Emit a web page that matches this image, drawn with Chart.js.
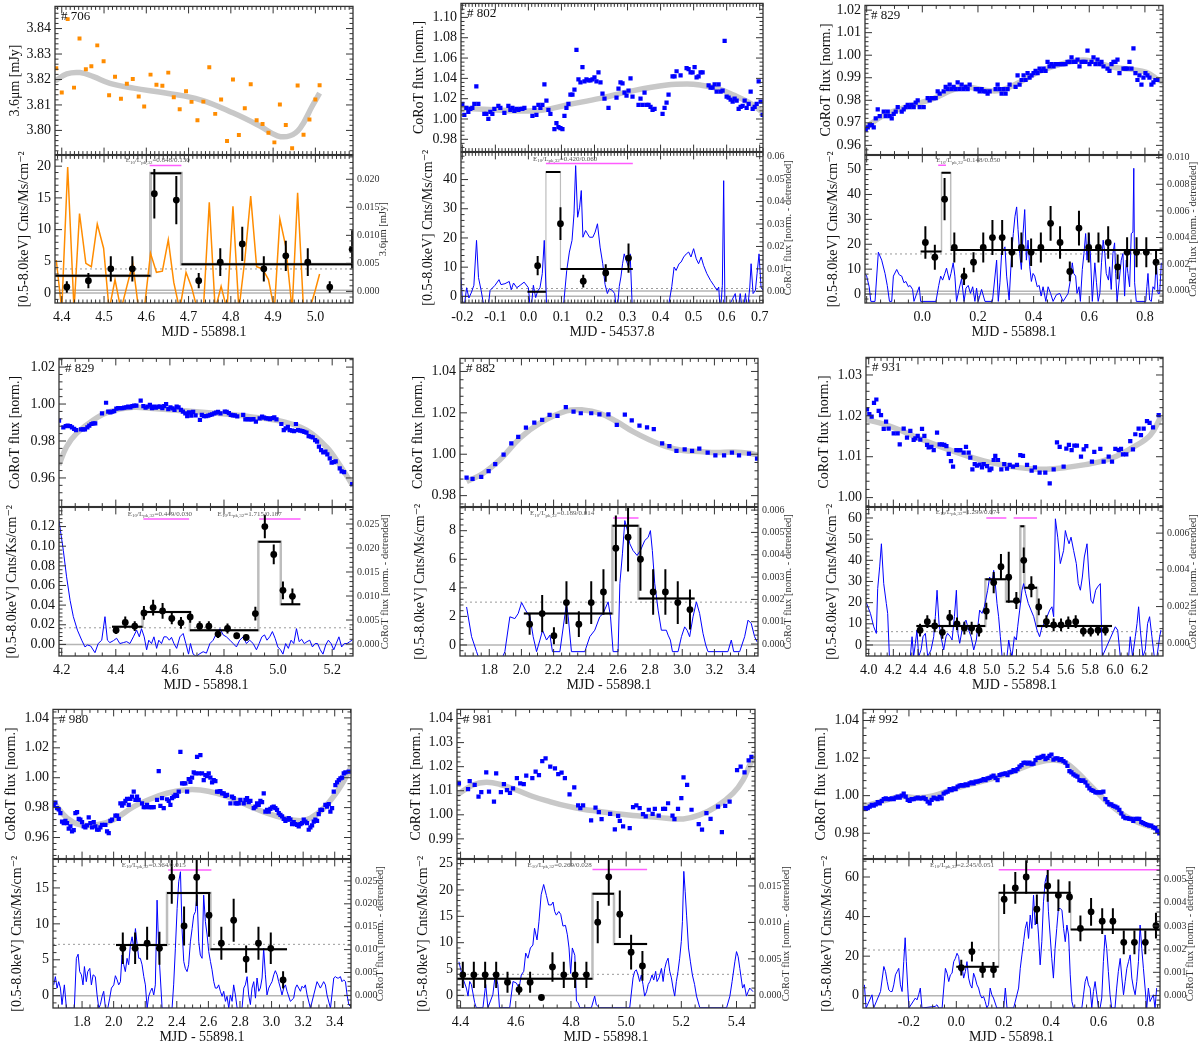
<!DOCTYPE html>
<html>
<head>
<meta charset="utf-8">
<script src="https://cdn.jsdelivr.net/npm/chart.js@4.4.1/dist/chart.umd.min.js"></script>
<style>
  html, body { margin: 0; padding: 0; background: #fff; }
  #wrap { position: relative; width: 1200px; height: 1050px; overflow: hidden; background: #fff; }
  #wrap canvas { position: absolute; }
</style>
</head>
<body>
<div id="wrap"></div>
<script>
// ---------- data: #706 (Spitzer 3.6um) ----------
const lc706 = [[4.387,3.8244],[4.400,3.8149],[4.414,3.8437],[4.429,3.8168],[4.442,3.8361],[4.457,3.8240],[4.470,3.8252],[4.484,3.8334],[4.499,3.8272],[4.512,3.8138],[4.526,3.8211],[4.540,3.8124],[4.554,3.8183],[4.568,3.8202],[4.582,3.8133],[4.595,3.8094],[4.610,3.8219],[4.624,3.8179],[4.638,3.8175],[4.652,3.8227],[4.665,3.8130],[4.679,3.8083],[4.694,3.8154],[4.707,3.8112],[4.721,3.8040],[4.735,3.8113],[4.749,3.8248],[4.763,3.8065],[4.777,3.8121],[4.791,3.7958],[4.805,3.8200],[4.819,3.7982],[4.833,3.8087],[4.847,3.8181],[4.861,3.8040],[4.875,3.8025],[4.889,3.7991],[4.903,3.7953],[4.916,3.8102],[4.930,3.8021],[4.945,3.7930],[4.958,3.8176],[4.972,3.7983],[4.986,3.8043],[5.000,3.8121],[5.010,3.8177]];
const fit706 = [[4.384,3.8194],[4.412,3.8222],[4.443,3.8227],[4.475,3.8211],[4.514,3.8185],[4.570,3.8166],[4.649,3.8146],[4.728,3.8120],[4.806,3.8068],[4.870,3.8016],[4.910,3.7979],[4.940,3.7979],[4.964,3.8009],[4.992,3.8094],[5.010,3.8146]];
const xray706 = [[4.412,0.95,0.9],[4.463,1.94,1.2],[4.516,3.82,2.0],[4.567,3.82,2.0],[4.619,15.65,3.9],[4.671,14.66,3.8],[4.724,1.94,1.2],[4.775,4.87,2.2],[4.827,7.75,2.7],[4.878,3.82,2.0],[4.930,5.86,2.4],[4.982,4.87,2.2],[5.034,0.94,0.9],[5.087,6.9,3.0]];
const bins706 = [[4.384,4.610,2.72],[4.610,4.683,18.9],[4.683,5.089,4.55]];
const res706 = [[4.387,0.0056],[4.400,-0.0033],[4.414,0.0222],[4.429,-0.0033],[4.442,0.0139],[4.457,0.0050],[4.470,0.0044],[4.484,0.0120],[4.499,0.0077],[4.512,-0.0033],[4.526,0.0021],[4.540,-0.0033],[4.554,0.0009],[4.568,0.0050],[4.582,-0.0033],[4.595,-0.0033],[4.610,0.0068],[4.624,0.0034],[4.638,0.0036],[4.652,0.0092],[4.665,0.0016],[4.679,-0.0033],[4.694,0.0034],[4.707,0.0008],[4.721,-0.0033],[4.735,-0.0033],[4.749,0.0159],[4.763,-0.0033],[4.777,0.0009],[4.791,-0.0033],[4.805,0.0152],[4.819,-0.0033],[4.833,0.0056],[4.847,0.0170],[4.861,0.0044],[4.875,0.0040],[4.889,0.0021],[4.903,-0.0033],[4.916,0.0129],[4.930,0.0080],[4.945,-0.0033],[4.958,0.0176],[4.972,-0.0033],[4.986,-0.0033],[5.000,0.0003],[5.010,0.0031]];
const zero706 = [0, 0.45], dot706 = 3.8;
const mag706 = [[4.608,4.683,20.1]];
const note706 = [[4.627,20.9,'0.848/0.130']];

// ---------- data: #802 ----------
const t802 = [-0.200, 0.00606];   // first time stamp, cadence
const lc802 = [1.015,1.004,1.011,1.007,1.010,1.011,1.015,1.032,1.015,null,null,1.005,1.005,1.000,1.007,1.005,1.010,null,1.013,1.011,null,1.006,null,1.013,1.009,1.011,1.008,1.010,1.009,1.010,1.010,1.011,null,null,null,1.003,1.011,1.004,1.014,1.011,1.014,1.034,1.018,1.009,1.005,null,0.990,0.996,0.992,0.991,0.990,1.003,1.011,1.015,1.024,1.024,1.029,1.068,1.039,1.036,1.051,1.037,1.039,1.038,1.038,1.039,1.041,1.037,1.046,1.036,1.025,1.020,null,1.011,null,null,null,1.021,1.030,1.036,1.035,1.026,1.023,1.028,1.040,1.022,null,null,1.014,1.020,1.014,1.026,1.014,1.014,1.012,1.009,1.010,null,null,null,1.005,1.011,1.016,1.024,null,1.042,1.042,1.047,null,1.043,null,null,1.050,1.049,1.046,1.046,1.051,1.041,1.042,1.046,1.046,null,null,1.033,1.031,1.031,1.034,1.027,1.034,1.027,1.028,1.077,1.022,1.021,1.019,1.017,1.020,1.018,1.010,1.012,1.013,1.018,1.011,1.015,1.027,1.010,1.012,1.015,1.037,1.017,1.004];
const fit802 = [[-0.204,1.0105],[-0.136,1.0095],[-0.035,1.0079],[0.045,1.0089],[0.116,1.0138],[0.217,1.0203],[0.318,1.0279],[0.419,1.0334],[0.480,1.0344],[0.520,1.0334],[0.571,1.0302],[0.621,1.0236],[0.672,1.0154],[0.710,1.0062]];
const xray802 = [[0.028,10.5,3.3],[0.097,24.9,5.6],[0.166,5.2,2.2],[0.234,8.0,3.0],[0.303,13.1,5.0]];
const bins802 = [[-0.003,0.053,1.6],[0.053,0.097,42.6],[0.097,0.316,9.4]];
const res802 = [[-0.204,0.0061],[-0.197,-0.01],[-0.187,0.0016],[-0.180,-0.003],[-0.172,-0.0003],[-0.165,0.0027],[-0.157,0.0227],[-0.151,0.0061],[-0.143,0.0004],[-0.131,-0.01],[-0.124,-0.01],[-0.116,0.0004],[-0.101,0.0027],[-0.089,0.0052],[-0.083,0.003],[-0.071,0.0034],[-0.058,0.0044],[-0.052,0.0007],[-0.045,0.0037],[-0.035,0.0016],[-0.025,0.0027],[-0.013,0.0041],[0.000,0.0016],[0.007,-0.01],[0.015,0.0027],[0.022,-0.0028],[0.028,0.0001],[0.035,0.0016],[0.042,0.0079],[0.048,0.0227],[0.056,-0.01],[0.104,-0.01],[0.116,0.0093],[0.124,0.0175],[0.132,0.0227],[0.138,0.0345],[0.143,0.056],[0.149,0.033],[0.155,0.0375],[0.160,0.0449],[0.165,0.0241],[0.173,0.0271],[0.179,0.0256],[0.185,0.0241],[0.195,0.0241],[0.202,0.0264],[0.209,0.0301],[0.217,0.0197],[0.225,0.0123],[0.232,0.0031],[0.239,-0.001],[0.245,0.0012],[0.254,0.0004],[0.261,-0.001],[0.268,-0.01],[0.275,0.0022],[0.280,0.0064],[0.285,0.0123],[0.290,0.0167],[0.296,0.0138],[0.303,0.0108],[0.308,0.0167],[0.315,-0.01],[0.420,-0.01],[0.434,0.0022],[0.441,0.0108],[0.447,0.0093],[0.456,0.0123],[0.462,0.013],[0.470,0.0153],[0.478,0.0167],[0.485,0.0175],[0.492,0.0153],[0.500,0.019],[0.508,0.0145],[0.515,0.0123],[0.523,0.0153],[0.530,0.0116],[0.540,0.0079],[0.551,0.0049],[0.561,0.0027],[0.571,0.0004],[0.576,0.0019],[0.581,-0.01],[0.587,0.0027],[0.591,0.0493],[0.595,-0.01],[0.626,-0.001],[0.633,-0.01],[0.641,-0.001],[0.649,-0.01],[0.657,-0.001],[0.662,-0.01],[0.670,0.0019],[0.674,0.0123],[0.680,-0.001],[0.687,0.0004],[0.692,0.0079],[0.698,0.0167],[0.704,0.0019],[0.710,0.0004]];
const zero802 = [0, 1.8], dot802 = 2.7;
const mag802 = [[0.053,0.316,45.5]];
const note802 = [[0.111,47.0,'0.420/0.060']];

// ---------- data: #829 (first epoch) ----------
const t829a = [-0.2033, 0.00718];
const lc829a = [0.967,0.968,0.969,0.969,0.968,0.972,0.976,0.973,null,0.975,0.973,0.975,0.973,0.972,0.974,0.975,0.977,null,0.975,0.976,0.977,0.978,0.977,0.978,0.977,0.979,0.980,0.977,null,0.977,null,0.981,0.980,0.981,0.981,0.981,0.984,0.983,null,0.984,0.986,0.985,0.987,0.985,0.986,0.985,0.988,0.985,0.987,0.985,0.986,0.985,0.987,null,null,0.985,0.985,0.984,0.985,0.984,0.984,0.983,0.984,null,null,0.985,0.987,0.985,0.983,0.985,0.983,0.985,0.987,null,null,0.986,0.991,0.987,0.989,0.991,0.989,0.992,0.990,0.991,0.992,0.993,0.992,0.994,0.993,0.994,0.993,0.997,0.995,0.996,0.995,0.996,0.996,0.996,0.996,0.996,0.996,0.997,0.997,0.999,0.997,0.997,0.998,0.995,0.997,0.997,0.997,1.002,0.996,0.997,0.999,0.996,0.998,0.996,0.997,0.995,null,0.994,0.993,0.996,0.997,0.997,0.998,0.992,null,0.994,0.994,0.994,0.997,0.994,1.003,0.992,0.989,0.991,0.987,0.990,0.992,0.991,0.990,0.987,0.988,0.989,0.989];
const fit829a = [[-0.206,0.9677],[-0.140,0.9732],[-0.044,0.9776],[0.039,0.9807],[0.111,0.9847],[0.159,0.9859],[0.231,0.9844],[0.279,0.9844],[0.350,0.9880],[0.422,0.9929],[0.494,0.9959],[0.566,0.9978],[0.602,0.9976],[0.638,0.9963],[0.698,0.9944],[0.757,0.9936],[0.805,0.9924],[0.847,0.9892],[0.865,0.9880]];
const xray829a = [[0.011,20.7,6.5],[0.045,14.8,5],[0.080,38.1,8.5],[0.115,18.7,6],[0.150,7.1,3.5],[0.184,12.8,4],[0.219,18.7,6],[0.252,22.7,7],[0.287,22.7,7],[0.322,16.8,6],[0.356,18.7,6],[0.391,16.8,5.5],[0.426,18.7,6],[0.461,28.4,7],[0.495,20.7,6.5],[0.530,9.1,4],[0.563,26.5,7],[0.598,18.7,6],[0.633,18.7,6],[0.668,20.7,6.5],[0.702,10.9,5],[0.736,16.8,6],[0.770,16.8,6],[0.805,16.8,6],[0.840,12.8,5]];
const bins829a = [[-0.006,0.069,17.1],[0.069,0.102,48.7],[0.102,0.865,17.7]];
const res829a = [[-0.206,0.0013],[-0.200,0.0011],[-0.191,0.0003],[-0.185,-0.0008],[-0.170,-0.0008],[-0.158,0.0029],[-0.146,0.0023],[-0.134,0.0013],[-0.126,0.0004],[-0.118,-0.0008],[-0.110,-0.0008],[-0.104,0.0011],[-0.092,0.0016],[-0.083,0.0012],[-0.074,0.0011],[-0.066,0.0006],[-0.059,0.0007],[-0.050,0.0003],[-0.044,0.0004],[-0.035,0.0001],[-0.030,-0.0008],[-0.020,-0.0002],[-0.011,0.0003],[-0.006,-0.0008],[0.049,-0.0008],[0.059,0.0004],[0.066,0.0011],[0.073,0.0008],[0.081,0.0013],[0.087,0.0017],[0.097,0.0008],[0.103,0.0013],[0.111,0.0021],[0.117,0.0011],[0.123,-0.0008],[0.133,0.0002],[0.141,0.0009],[0.150,-0.0008],[0.157,0.0002],[0.165,0.0004],[0.173,-0.0002],[0.181,0.0003],[0.189,-0.0008],[0.195,0.0002],[0.201,-0.0008],[0.213,0.0001],[0.225,-0.0008],[0.252,-0.0008],[0.267,0.0023],[0.273,-0.0008],[0.279,0.0006],[0.285,0.0028],[0.297,0.0033],[0.303,0.0011],[0.312,-0.0007],[0.321,0.0028],[0.327,0.0043],[0.333,0.0056],[0.339,0.0063],[0.344,0.0046],[0.350,0.0028],[0.356,0.0016],[0.362,0.0043],[0.368,0.0061],[0.374,0.0023],[0.380,0.0038],[0.386,0.0018],[0.392,0.0007],[0.398,0.0013],[0.404,0.0011],[0.413,0.0003],[0.420,0.0004],[0.427,-0.0004],[0.434,0.0003],[0.444,-0.0008],[0.452,0.0003],[0.461,-0.0002],[0.470,-0.0008],[0.482,-0.0003],[0.494,-0.0002],[0.506,-0.0008],[0.524,-0.0002],[0.532,0.0008],[0.539,0.0021],[0.544,0.0013],[0.551,0.0011],[0.556,-0.0002],[0.563,0.0003],[0.568,-0.0008],[0.575,0.0016],[0.581,0.0028],[0.587,0.0043],[0.592,0.0023],[0.599,0.0043],[0.604,0.0028],[0.611,-0.0008],[0.620,0.0021],[0.626,0.0006],[0.632,-0.0008],[0.638,-0.0002],[0.644,0.0021],[0.650,0.0038],[0.656,0.0028],[0.661,0.0013],[0.669,0.0008],[0.673,0.0018],[0.679,0.0001],[0.685,0.0028],[0.691,0.0036],[0.695,0.0013],[0.700,-0.0008],[0.715,0.0023],[0.721,0.0028],[0.727,-0.0004],[0.733,0.0023],[0.739,0.0013],[0.745,0.0003],[0.751,0.0043],[0.757,0.0044],[0.760,0.0092],[0.763,0.0006],[0.769,-0.0008],[0.803,-0.0008],[0.807,0.0003],[0.811,0.0013],[0.817,-0.0007],[0.823,-0.0008],[0.829,0.0003],[0.835,0.0001],[0.841,0.0023],[0.847,-0.0002],[0.853,-0.0002],[0.859,0.0021]];
const zero829a = [0, 1.1], dot829a = 16.1;
const mag829a = [[0.057,0.085,51.7]];
const note829a = [[0.165,53.7,'0.148/0.050']];

// ---------- data: #829 (second epoch) ----------
const lc829b = [[4.190,0.9910],[4.206,0.9874],[4.215,0.9881],[4.222,0.9883],[4.231,0.9881],[4.238,0.9874],[4.246,0.9865],[4.253,0.9859],[4.271,0.9863],[4.279,0.9863],[4.286,0.9863],[4.295,0.9874],[4.302,0.9883],[4.310,0.9892],[4.317,0.9895],[4.324,0.9895],[4.349,0.9950],[4.364,1.0007],[4.372,0.9959],[4.380,0.9955],[4.387,0.9959],[4.394,0.9962],[4.402,0.9975],[4.409,0.9978],[4.417,0.9978],[4.424,0.9978],[4.431,0.9980],[4.439,0.9982],[4.446,0.9986],[4.454,0.9982],[4.461,0.9989],[4.468,0.9991],[4.476,0.9991],[4.492,1.0018],[4.502,0.9989],[4.510,0.9980],[4.518,0.9986],[4.526,0.9995],[4.534,0.9978],[4.541,0.9986],[4.548,0.9980],[4.557,0.9986],[4.564,0.9986],[4.572,0.9978],[4.579,0.9989],[4.586,1.0000],[4.594,0.9973],[4.602,0.9982],[4.610,0.9977],[4.617,0.9968],[4.625,0.9986],[4.632,0.9982],[4.641,0.9968],[4.648,0.9959],[4.657,0.9950],[4.664,0.9935],[4.671,0.9955],[4.679,0.9937],[4.686,0.9957],[4.695,0.9939],[4.711,0.9914],[4.718,0.9941],[4.726,0.9935],[4.734,0.9935],[4.742,0.9937],[4.749,0.9941],[4.756,0.9944],[4.764,0.9950],[4.771,0.9953],[4.778,0.9957],[4.787,0.9950],[4.803,0.9959],[4.810,0.9957],[4.818,0.9951],[4.825,0.9941],[4.833,0.9939],[4.840,0.9939],[4.849,0.9933],[4.871,0.9941],[4.879,0.9917],[4.887,0.9919],[4.894,0.9917],[4.902,0.9917],[4.909,0.9919],[4.918,0.9905],[4.932,0.9923],[4.941,0.9932],[4.948,0.9926],[4.956,0.9923],[4.963,0.9923],[4.970,0.9919],[4.979,0.9924],[4.986,0.9928],[4.994,0.9917],[5.012,0.9892],[5.021,0.9859],[5.028,0.9868],[5.036,0.9877],[5.043,0.9859],[5.052,0.9856],[5.059,0.9854],[5.066,0.9892],[5.074,0.9859],[5.082,0.9856],[5.090,0.9854],[5.097,0.9850],[5.105,0.9845],[5.113,0.9827],[5.121,0.9823],[5.128,0.9820],[5.137,0.9805],[5.144,0.9796],[5.151,0.9769],[5.159,0.9751],[5.167,0.9739],[5.175,0.9742],[5.182,0.9728],[5.191,0.9706],[5.198,0.9683],[5.206,0.9686],[5.213,0.9690],[5.228,0.9652],[5.235,0.9636],[5.244,0.9632],[5.274,0.9566]];
const fit829b = [[4.190,0.9670],[4.218,0.9769],[4.255,0.9841],[4.317,0.9914],[4.378,0.9959],[4.465,0.9982],[4.526,0.9977],[4.649,0.9964],[4.772,0.9950],[4.895,0.9932],[5.018,0.9905],[5.105,0.9859],[5.178,0.9769],[5.228,0.9670],[5.277,0.9557]];
const xray829b = [[4.401,0.0145,0.004],[4.435,0.0223,0.006],[4.470,0.0186,0.005],[4.504,0.0321,0.007],[4.538,0.0375,0.008],[4.573,0.0341,0.008],[4.607,0.0264,0.006],[4.641,0.0220,0.006],[4.675,0.0280,0.006],[4.710,0.0186,0.005],[4.744,0.0186,0.005],[4.778,0.0105,0.004],[4.813,0.0162,0.005],[4.847,0.0088,0.003],[4.882,0.0071,0.003],[4.916,0.0314,0.007],[4.951,0.1200,0.012],[4.984,0.0916,0.010],[5.018,0.0551,0.009],[5.053,0.0490,0.008]];
const bins829b = [[4.386,4.499,0.0179],[4.499,4.674,0.0331],[4.674,4.927,0.0145],[4.927,5.010,0.1044],[5.010,5.082,0.0409]];
const res829b = [[4.190,0.0257],[4.206,0.0195],[4.218,0.0140],[4.231,0.0091],[4.243,0.0057],[4.258,0.0029],[4.274,0.0008],[4.286,-0.0006],[4.295,-0.0002],[4.307,-0.0004],[4.323,-0.0018],[4.335,0.0001],[4.348,0.0008],[4.360,0.0057],[4.369,0.0008],[4.378,0.0003],[4.391,0.0007],[4.403,0.0012],[4.415,0.0001],[4.428,0.0003],[4.440,0.0005],[4.452,0.0001],[4.465,0.0015],[4.477,0.0029],[4.487,0.0015],[4.495,0.0032],[4.505,0.0015],[4.514,-0.0012],[4.522,0.0008],[4.532,0.0001],[4.541,0.0015],[4.551,-0.0009],[4.559,0.0008],[4.569,0.0001],[4.578,0.0015],[4.588,0.0015],[4.598,0.0008],[4.606,0.0014],[4.615,0.0001],[4.625,-0.0009],[4.637,0.0015],[4.649,0.0022],[4.659,0.0001],[4.669,-0.0021],[4.676,0.0001],[4.686,-0.0021],[4.698,-0.0026],[4.708,-0.0021],[4.723,-0.0016],[4.735,-0.0019],[4.748,0.0001],[4.760,0.0008],[4.772,0.0022],[4.785,0.0032],[4.797,0.0019],[4.809,0.0015],[4.822,0.0008],[4.834,0.0001],[4.846,-0.0006],[4.858,0.0008],[4.871,0.0015],[4.883,0.0001],[4.895,0.0008],[4.908,0.0001],[4.920,-0.0012],[4.930,0.0001],[4.940,0.0015],[4.950,0.0019],[4.959,0.0008],[4.969,0.0015],[4.979,0.0026],[4.989,0.0012],[4.999,-0.0006],[5.009,-0.0012],[5.018,-0.0021],[5.028,0.0001],[5.038,-0.0009],[5.048,0.0008],[5.058,0.0001],[5.068,0.0032],[5.078,0.0005],[5.087,0.0010],[5.097,0.0001],[5.107,0.0005],[5.117,0.0008],[5.127,-0.0006],[5.137,0.0001],[5.146,0.0001],[5.156,-0.0012],[5.166,-0.0021],[5.176,-0.0002],[5.186,0.0008],[5.196,0.0001],[5.206,-0.0012],[5.215,0.0001],[5.225,0.0015],[5.235,-0.0006],[5.245,0.0001],[5.255,0.0001],[5.265,0.0005],[5.274,0.0008]];
const zero829b = [0], dot829b = 0.0169;
const mag829b = [[4.502,4.671,0.1277],[4.930,5.083,0.1277]];
const note829b = [[4.563,0.1330,'0.449/0.030'],[4.895,0.1330,'1.715/0.187']];

// ---------- data: #882 ----------
const lc882 = [[1.659,0.9887],[1.696,0.9881],[1.750,0.9891],[1.796,0.9918],[1.837,0.9952],[1.889,0.9998],[1.937,1.0053],[1.980,1.0084],[2.028,1.0129],[2.080,1.0153],[2.129,1.0166],[2.175,1.0190],[2.224,1.0185],[2.276,1.0228],[2.324,1.0206],[2.369,1.0198],[2.434,1.0198],[2.485,1.0193],[2.541,1.0193],[2.593,1.0142],[2.643,1.0191],[2.686,1.0164],[2.734,1.0138],[2.781,1.0130],[2.823,1.0121],[2.875,1.0053],[2.920,1.0039],[2.964,1.0016],[3.015,1.0023],[3.061,1.0016],[3.106,1.0027],[3.158,1.0008],[3.206,0.9995],[3.260,0.9995],[3.309,1.0008],[3.353,0.9995],[3.415,1.0003],[3.465,0.9979]];
const fit882 = [[1.659,0.9868],[1.763,0.9908],[1.866,0.9973],[1.990,1.0077],[2.115,1.0150],[2.280,1.0209],[2.384,1.0214],[2.487,1.0198],[2.591,1.0158],[2.694,1.0109],[2.798,1.0069],[2.901,1.0037],[3.005,1.0018],[3.108,1.0013],[3.212,1.0008],[3.316,1.0011],[3.419,1.0005],[3.471,0.9995]];
const xray882 = [[2.051,1.46,0.75],[2.129,2.2,1.3],[2.202,0.65,0.6],[2.280,2.97,1.5],[2.357,1.46,0.9],[2.434,2.97,1.5],[2.510,3.71,1.6],[2.587,6.77,2.3],[2.663,7.54,2.4],[2.740,6.0,2.2],[2.819,3.71,1.6],[2.895,3.71,1.6],[2.972,2.97,1.5],[3.048,2.48,1.4]];
const bins882 = [[2.015,2.566,2.2],[2.566,2.728,8.35],[2.728,3.077,3.25]];
const res882 = [[1.659,0.00166],[1.690,0.00033],[1.721,-0.00034],[1.763,-0.0012],[1.846,-0.0012],[1.897,-0.00034],[1.928,0.00122],[1.959,0.00114],[1.980,0.00137],[2.001,0.00186],[2.028,0.00149],[2.053,0.00122],[2.073,0.00033],[2.094,-0.00034],[2.115,0.00018],[2.131,0.00062],[2.156,0.00018],[2.177,0.0004],[2.193,-0.00034],[2.239,-0.00034],[2.280,0.00181],[2.291,0.00122],[2.311,-0.00034],[2.394,-0.00034],[2.425,0.00033],[2.456,0.00062],[2.487,0.00122],[2.508,0.00137],[2.539,0.00189],[2.554,0.00122],[2.570,-0.00034],[2.601,-0.00034],[2.612,0.0027],[2.628,0.00404],[2.643,0.00553],[2.659,0.00508],[2.674,0.00449],[2.694,0.00419],[2.719,0.00397],[2.740,0.00419],[2.767,0.00464],[2.788,0.00478],[2.802,0.00508],[2.814,0.00419],[2.829,0.0027],[2.850,0.00152],[2.870,0.00062],[2.901,0.00062],[2.912,0.0004],[2.926,0.00018],[2.939,-0.00034],[2.974,-0.00034],[2.995,0.00033],[3.015,0.00077],[3.030,0.00062],[3.046,0.00033],[3.067,0.00122],[3.088,0.00189],[3.108,0.00137],[3.129,0.00048],[3.146,-0.00004],[3.160,-0.00034],[3.284,-0.00034],[3.305,0.00018],[3.320,-0.00034],[3.357,-0.00034],[3.388,0.00033],[3.409,0.00107],[3.429,0.00092],[3.450,0.00033],[3.465,0.0001]];
const zero882 = [0], dot882 = 3.0;
const mag882 = [[2.570,2.728,8.89]];
const note882 = [[2.253,9.22,'0.189/0.014']];

// ---------- data: #931 ----------
const lc931 = [[3.986,1.0216],[4.005,1.0204],[4.024,1.0198],[4.043,1.0232],[4.062,1.0240],[4.081,1.0212],[4.100,1.0202],[4.122,1.0168],[4.141,1.0186],[4.162,1.0169],[4.203,1.0157],[4.235,1.0157],[4.252,1.0130],[4.284,1.0169],[4.311,1.0147],[4.338,1.0163],[4.365,1.0141],[4.379,1.0145],[4.398,1.0151],[4.419,1.0142],[4.433,1.0168],[4.452,1.0151],[4.474,1.0129],[4.487,1.0123],[4.509,1.0124],[4.528,1.0116],[4.555,1.0159],[4.576,1.0130],[4.595,1.0130],[4.614,1.0129],[4.631,1.0126],[4.650,1.0107],[4.668,1.0089],[4.685,1.0076],[4.712,1.0116],[4.731,1.0116],[4.744,1.0116],[4.771,1.0110],[4.790,1.0124],[4.812,1.0110],[4.825,1.0098],[4.842,1.0069],[4.861,1.0082],[4.880,1.0078],[4.901,1.0081],[4.920,1.0074],[4.934,1.0082],[4.961,1.0077],[4.982,1.0067],[4.996,1.0071],[5.015,1.0092],[5.028,1.0102],[5.050,1.0092],[5.077,1.0069],[5.101,1.0082],[5.123,1.0071],[5.145,1.0080],[5.172,1.0076],[5.204,1.0080],[5.231,1.0104],[5.253,1.0102],[5.286,1.0080],[5.323,1.0066],[5.350,1.0074],[5.388,1.0061],[5.434,1.0061],[5.470,1.0035],[5.502,1.0069],[5.529,1.0135],[5.551,1.0124],[5.583,1.0076],[5.605,1.0120],[5.626,1.0129],[5.648,1.0116],[5.670,1.0127],[5.691,1.0127],[5.724,1.0100],[5.746,1.0118],[5.767,1.0126],[5.813,1.0088],[5.832,1.0112],[5.881,1.0119],[5.908,1.0088],[5.949,1.0100],[5.976,1.0088],[6.003,1.0119],[6.030,1.0116],[6.049,1.0119],[6.065,1.0106],[6.092,1.0106],[6.124,1.0138],[6.146,1.0118],[6.165,1.0155],[6.192,1.0169],[6.211,1.0153],[6.233,1.0169],[6.260,1.0187],[6.281,1.0183],[6.309,1.0172],[6.355,1.0202]];
const fit931 = [[3.978,1.0191],[4.122,1.0180],[4.257,1.0165],[4.392,1.0147],[4.528,1.0131],[4.663,1.0116],[4.798,1.0102],[4.934,1.0090],[5.069,1.0081],[5.204,1.0074],[5.340,1.0070],[5.475,1.0070],[5.610,1.0074],[5.746,1.0080],[5.881,1.0088],[6.016,1.0102],[6.152,1.0124],[6.287,1.0153],[6.373,1.0198]];
const xray931 = [[4.417,7,3],[4.476,11,3],[4.536,9,3],[4.598,6,3],[4.658,13,3.5],[4.717,10,3],[4.777,8,3],[4.836,8,3],[4.896,7,3],[4.955,16,4],[5.015,29.5,5],[5.074,37,6],[5.137,32,12],[5.199,21,4],[5.259,40,6],[5.321,27.5,5],[5.381,18,4],[5.443,11,3],[5.502,9.5,3],[5.562,9.5,3],[5.621,10.5,3],[5.681,11,3],[5.743,6.5,2.5],[5.803,6.5,2.5],[5.862,7,2.5],[5.922,7,2.5]];
const bins931 = [[4.387,4.947,9.0],[4.947,5.115,31.0],[5.115,5.231,20.5],[5.231,5.264,56.1],[5.264,5.367,27.0],[5.367,5.976,9.0]];
const res931 = [[3.978,0.00226],[4.014,0.00163],[4.041,0.0009],[4.062,0.00054],[4.073,0.00298],[4.089,0.00416],[4.103,0.00542],[4.122,0.00325],[4.143,0.00217],[4.154,0.00163],[4.168,-0.00072],[4.338,-0.00072],[4.352,0.00036],[4.365,-0.00072],[4.379,0],[4.392,0.00072],[4.406,-0.00072],[4.425,-0.00036],[4.441,0.00036],[4.460,0.00054],[4.479,-0.00072],[4.506,-0.00036],[4.528,0.00036],[4.541,0.00145],[4.555,0.00289],[4.571,0.00108],[4.587,0.00036],[4.609,-0.00036],[4.628,0.00036],[4.641,0.00054],[4.663,0.00036],[4.677,0.00018],[4.696,0.00145],[4.712,0.00289],[4.725,0.00054],[4.739,0],[4.758,0.00072],[4.771,0.00108],[4.790,0.00126],[4.812,0.00072],[4.831,0.00036],[4.853,-0.00036],[4.874,0.00018],[4.901,0.00181],[4.920,0.00163],[4.939,0.00199],[4.950,0.00235],[4.966,0.00289],[4.982,0.00361],[5.001,0.00325],[5.015,0.00397],[5.028,0.00325],[5.042,0.00217],[5.055,0.00145],[5.069,0.00036],[5.083,-0.00072],[5.123,-0.00072],[5.137,0.00018],[5.150,-0.00036],[5.164,-0.00072],[5.183,0.00036],[5.199,0.00018],[5.210,0.0009],[5.226,0.00181],[5.245,0.00289],[5.258,0.00325],[5.275,0.00271],[5.296,0.00217],[5.318,0.00181],[5.340,0.00145],[5.367,0.00072],[5.388,0.00036],[5.407,0.0009],[5.426,0.00108],[5.448,0.00145],[5.470,0.00181],[5.488,0.00199],[5.502,0.00145],[5.516,0.00678],[5.535,0.00578],[5.556,0.00434],[5.583,0.00506],[5.597,0.00614],[5.610,0.00578],[5.627,0.00542],[5.643,0.00578],[5.664,0.00506],[5.686,0.00434],[5.702,0.00325],[5.719,0.00289],[5.735,0.00361],[5.751,0.0047],[5.773,0.00542],[5.789,0.00361],[5.805,0.00235],[5.821,0.00217],[5.843,0.00289],[5.859,0.00307],[5.881,0.00325],[5.897,-0.00072],[6.003,0.0009],[6.022,0.00072],[6.043,-0.00072],[6.111,-0.00072],[6.124,0.00036],[6.143,-0.00072],[6.165,0.00036],[6.179,0.00108],[6.192,0.00199],[6.206,0.00072],[6.227,-0.00072],[6.246,-0.00036],[6.265,0.00108],[6.281,0.00145],[6.300,0.00036],[6.319,-0.00072],[6.341,-0.00072],[6.363,0.00036],[6.373,0.00072]];
const zero931 = [0, 1.9], dot931 = 6.3;
const mag931 = [[4.955,5.118,60.0],[5.177,5.367,60.0]];
const note931 = [[4.804,62.8,'1.299/0.074']];

// ---------- data: #980 ----------
const t980 = [1.6206, 0.010554];
const lc980 = [0.9818,0.9834,0.9796,0.9789,0.9763,0.9707,0.9696,0.9712,0.9696,0.9659,0.9674,0.9641,0.9650,0.9763,0.9770,0.9725,0.9719,0.9703,0.9674,0.9668,0.9681,0.9734,0.9696,0.9668,0.9703,0.9674,0.9652,0.9652,0.9668,0.9685,null,0.9685,0.9641,0.9630,0.9712,0.9719,null,0.9747,0.9747,0.9725,0.9829,0.9814,0.9829,0.9845,0.9858,0.9818,0.9858,0.9874,0.9907,0.9852,0.9874,0.9852,null,0.9829,0.9803,0.9803,0.9818,0.9803,0.9803,0.9803,0.9803,null,0.9852,1.0044,0.9812,0.9863,0.9796,null,0.9856,0.9845,0.9818,0.9863,0.9874,0.9885,0.9878,0.9907,1.0173,0.9962,0.9962,0.9962,0.9907,0.9991,0.9973,1.0000,1.0035,1.0029,1.0140,1.0029,1.0151,1.0029,0.9984,1.0018,1.0011,1.0029,1.0000,0.9969,0.9984,0.9978,0.9907,0.9907,0.9911,0.9896,0.9896,0.9878,0.9885,null,0.9829,0.9874,0.9863,0.9829,0.9829,0.9829,0.9852,null,0.9829,0.9852,0.9863,0.9836,0.9845,null,0.9796,0.9807,0.9829,0.9818,0.9845,0.9836,0.9896,0.9774,0.9785,0.9774,0.9792,0.9801,0.9807,0.9796,0.9785,0.9763,0.9752,0.9741,0.9725,0.9712,0.9719,0.9730,0.9719,0.9690,0.9703,0.9690,0.9685,0.9674,0.9690,0.9696,0.9719,0.9707,0.9696,0.9652,0.9668,0.9681,0.9707,0.9719,0.9712,0.9756,0.9785,0.9785,null,0.9818,0.9807,0.9823,0.9774,0.9796,0.9907,0.9951,0.9969,0.9984,0.9996,1.0000,1.0029,1.0035,null,1.0040];
const fit980 = [[1.616,0.9840],[1.705,0.9730],[1.789,0.9685],[1.895,0.9685],[2.000,0.9719],[2.127,0.9807],[2.233,0.9858],[2.338,0.9896],[2.444,0.9918],[2.549,0.9918],[2.655,0.9896],[2.760,0.9858],[2.866,0.9807],[2.971,0.9763],[3.077,0.9730],[3.182,0.9712],[3.246,0.9730],[3.330,0.9796],[3.415,0.9907],[3.478,1.0018],[3.503,1.0073]];
const xray980 = [[2.058,6.6,2.2],[2.136,6.6,2.2],[2.212,7.3,2.3],[2.290,6.6,2.3],[2.368,16.5,3.7],[2.446,9.7,2.7],[2.526,16.5,4],[2.604,11.2,3],[2.682,7.3,2.3],[2.760,10.5,3],[2.839,5.1,1.9],[2.917,7.3,2.3],[2.995,6.6,2.2],[3.073,2.2,1.2]];
const bins980 = [[2.015,2.338,7.06],[2.338,2.613,14.3],[2.613,3.098,6.46]];
const res980 = [[1.621,0.0023],[1.631,0.0041],[1.642,0.0016],[1.652,0.003],[1.663,0.0016],[1.673,-0.002],[1.688,0.0023],[1.701,-0.0028],[1.751,-0.0028],[1.764,0.0081],[1.775,0.009],[1.785,0.0052],[1.796,0.0045],[1.806,0.0023],[1.815,0.0063],[1.827,0.003],[1.836,0.0052],[1.849,0.0059],[1.859,0.0023],[1.870,0.0045],[1.884,0.0041],[1.895,0.0001],[1.906,-0.0028],[1.916,-0.002],[1.927,-0.0002],[1.937,0.0009],[1.948,-0.0028],[1.963,-0.0028],[1.975,-0.0006],[1.986,0.0016],[2.001,0.0023],[2.011,0.0043],[2.022,0.0034],[2.032,0.0023],[2.043,0.003],[2.053,0.0088],[2.064,0.0067],[2.074,0.0052],[2.085,0.0081],[2.095,0.0067],[2.106,0.011],[2.117,0.0128],[2.127,0.0103],[2.138,0.0146],[2.148,0.0114],[2.159,0.0081],[2.169,0.0081],[2.180,0.0067],[2.191,0.0041],[2.201,0.0023],[2.212,-0.0028],[2.222,-0.0002],[2.233,0.0009],[2.243,0.0016],[2.254,0.0001],[2.264,0.0023],[2.275,0.0208],[2.286,0.0096],[2.296,0.0038],[2.307,-0.0028],[2.370,-0.0028],[2.380,0.0023],[2.391,0.0103],[2.402,0.019],[2.412,0.0248],[2.423,0.027],[2.433,0.0146],[2.444,0.0074],[2.454,0.0059],[2.465,0.0052],[2.475,0.0067],[2.486,0.0117],[2.497,0.0146],[2.507,0.0175],[2.518,0.0183],[2.528,0.0219],[2.539,0.0117],[2.549,0.0088],[2.560,0.0081],[2.570,0.0219],[2.581,0.0161],[2.592,0.0132],[2.602,0.0096],[2.613,0.0074],[2.623,0.0056],[2.634,0.003],[2.644,0.0016],[2.655,0.0016],[2.665,0.0023],[2.676,0.0009],[2.687,-0.0002],[2.697,0.0009],[2.708,-0.0013],[2.718,-0.0002],[2.729,-0.0028],[2.739,0.0001],[2.750,-0.0013],[2.760,0.0023],[2.771,0.0001],[2.782,-0.0028],[2.813,-0.0028],[2.824,0.0016],[2.834,0.0023],[2.845,0.0041],[2.855,0.0001],[2.866,-0.002],[2.876,0.0016],[2.887,0.003],[2.898,-0.0006],[2.908,0.0038],[2.919,0.0009],[2.929,0.0016],[2.940,0.0038],[2.950,0.0103],[2.961,0.0045],[2.971,0.0001],[2.982,0.0016],[2.992,0.0023],[3.003,0.003],[3.014,0.0045],[3.024,0.0054],[3.035,0.0045],[3.045,0.003],[3.056,0.0016],[3.066,0.0001],[3.077,0.0016],[3.088,0.0023],[3.098,0.0009],[3.119,-0.0013],[3.140,-0.0006],[3.151,0.0016],[3.161,0.0023],[3.183,0.0009],[3.193,0.002],[3.204,0.0016],[3.214,0.0023],[3.225,0.0001],[3.246,-0.0028],[3.267,0.0001],[3.288,0.003],[3.299,0.0023],[3.309,0.0016],[3.320,0.0023],[3.330,0.003],[3.341,0.0023],[3.351,0.0001],[3.373,-0.0028],[3.394,0.0038],[3.404,0.0041],[3.415,0.0038],[3.425,0.0038],[3.436,0.0041],[3.446,0.003],[3.457,0.0034],[3.468,0.003],[3.478,0.0001],[3.489,-0.002],[3.499,-0.0024]];
const zero980 = [0], dot980 = 7.15;
const mag980 = [[2.345,2.619,17.5]];
const note980 = [[2.254,18.2,'0.364/0.015']];

// ---------- data: #981 ----------
const lc981 = [[4.394,1.0131],[4.427,1.0107],[4.433,1.0140],[4.451,1.0124],[4.465,1.0076],[4.475,1.0094],[4.493,1.0176],[4.503,1.0096],[4.521,1.0055],[4.529,1.0172],[4.546,1.0094],[4.557,1.0127],[4.568,1.0103],[4.579,1.0091],[4.590,1.0110],[4.604,1.0152],[4.616,1.0131],[4.629,1.0127],[4.638,1.0163],[4.660,1.0152],[4.672,1.0179],[4.684,1.0165],[4.696,1.0223],[4.708,1.0234],[4.725,1.0200],[4.742,1.0193],[4.754,1.0169],[4.766,1.0175],[4.778,1.0152],[4.795,1.0085],[4.812,1.0114],[4.826,1.0039],[4.834,1.0028],[4.844,1.0039],[4.873,0.9977],[4.889,1.0030],[4.901,1.0011],[4.911,0.9982],[4.942,1.0004],[4.959,0.9939],[4.971,0.9996],[4.977,0.9975],[4.989,0.9952],[5.013,0.9945],[5.025,1.0032],[5.037,1.0039],[5.049,1.0028],[5.061,1.0003],[5.071,0.9993],[5.082,1.0021],[5.096,1.0004],[5.104,1.0025],[5.118,0.9997],[5.134,1.0025],[5.141,1.0025],[5.152,1.0048],[5.168,0.9997],[5.175,0.9982],[5.188,1.0025],[5.200,1.0069],[5.208,1.0156],[5.221,1.0124],[5.237,1.0021],[5.263,0.9961],[5.275,0.9938],[5.291,1.0007],[5.306,0.9983],[5.333,1.0034],[5.347,0.9928],[5.359,1.0037],[5.375,1.0055],[5.402,1.0186],[5.415,1.0200],[5.429,1.0176],[5.444,1.0226],[5.454,1.0241]];
const fit981 = [[4.387,1.0083],[4.445,1.0124],[4.493,1.0135],[4.541,1.0127],[4.602,1.0103],[4.662,1.0076],[4.723,1.0055],[4.783,1.0037],[4.844,1.0023],[4.904,1.0014],[4.965,1.0004],[5.025,0.9997],[5.086,0.9992],[5.146,0.9986],[5.207,0.9983],[5.267,1.0000],[5.327,1.0034],[5.388,1.0090],[5.424,1.0145],[5.448,1.0207],[5.460,1.0234]];
const xray981 = [[4.408,3.9,2.5],[4.448,3.9,2.5],[4.489,3.9,2.5],[4.529,3.9,2.5],[4.570,2.5,2],[4.612,1.1,1],[4.652,2.5,2],[4.693,-0.4,0],[4.733,5.4,2.8],[4.774,3.9,2.5],[4.815,3.9,2.5],[4.856,3.9,2.5],[4.897,13.9,4],[4.937,22.5,5.5],[4.977,15.4,4.5],[5.018,8.2,3.3],[5.059,5.6,2.8]];
const bins981 = [[4.387,4.878,3.15],[4.878,4.956,19.3],[4.956,5.076,9.76]];
const res981 = [[4.394,0.0046],[4.408,0.0024],[4.421,0.001],[4.427,-0.0001],[4.433,0.0019],[4.439,0.0015],[4.451,-0.001],[4.457,-0.0017],[4.481,-0.0017],[4.491,0.0015],[4.499,-0.0017],[4.517,0.0001],[4.526,0.003],[4.535,0.0015],[4.541,-0.0017],[4.578,-0.0017],[4.590,0.0019],[4.602,0.0017],[4.612,0.001],[4.620,0.0028],[4.629,0.0033],[4.636,0.0058],[4.644,0.0051],[4.653,0.0065],[4.662,0.0069],[4.668,0.0092],[4.677,0.0076],[4.684,0.0101],[4.692,0.0138],[4.701,0.0152],[4.711,0.0137],[4.719,0.0124],[4.729,0.0124],[4.735,0.0128],[4.741,0.0115],[4.747,0.011],[4.756,0.0115],[4.763,0.0111],[4.771,0.0095],[4.780,0.0096],[4.787,0.0083],[4.793,0.0065],[4.799,0.003],[4.805,0.0065],[4.814,0.0055],[4.820,-0.0008],[4.826,-0.001],[4.832,-0.0017],[4.874,-0.0017],[4.886,-0.0001],[4.892,-0.0013],[4.904,-0.0017],[5.013,-0.0017],[5.025,0.0024],[5.031,0.0033],[5.037,0.0035],[5.043,0.0028],[5.049,0.0019],[5.055,0.0028],[5.061,0.0015],[5.067,-0.0001],[5.074,0.0005],[5.080,0.0015],[5.086,0.0019],[5.094,0.0028],[5.100,0.0021],[5.107,0.0033],[5.112,0.0019],[5.119,0.0024],[5.128,0.0037],[5.134,0.0019],[5.140,0.0037],[5.146,0.0046],[5.152,0.0051],[5.158,0.0033],[5.164,0.0024],[5.170,0.001],[5.176,-0.0001],[5.182,0.0019],[5.188,0.0033],[5.194,0.0051],[5.200,0.0074],[5.204,0.0101],[5.209,0.017],[5.214,0.0142],[5.219,0.011],[5.226,0.0065],[5.233,0.0046],[5.240,0.0028],[5.248,0.0015],[5.255,-0.0001],[5.267,-0.0017],[5.364,-0.0017],[5.376,-0.0001],[5.384,0.0019],[5.394,0.0046],[5.400,0.006],[5.406,0.0053],[5.412,0.0037],[5.422,0.001],[5.428,0.0015],[5.436,-0.0001],[5.442,0.0005],[5.448,0.001],[5.460,0.0005]];
const zero981 = [0], dot981 = 4.0;
const mag981 = [[4.878,5.076,23.9]];
const note981 = [[4.759,24.8,'0.269/0.028']];

// ---------- data: #992 ----------
const t992 = [-0.3907, 0.00843];
const lc992 = [0.9933,0.9929,0.9933,0.9942,0.9951,0.9947,0.9954,0.9965,0.9959,0.9972,0.9982,0.9986,0.9982,0.9981,0.9986,0.9982,0.9989,0.9995,0.9989,1.0000,1.0011,0.9995,0.9977,0.9972,0.9982,0.9982,0.9986,0.9989,0.9986,0.9986,0.9989,0.9982,0.9968,0.9959,0.9977,0.9989,0.9986,0.9982,0.9993,0.9986,1.0011,1.0018,1.0021,1.0035,1.0030,1.0039,1.0035,1.0048,1.0053,1.0056,1.0053,1.0060,1.0056,1.0065,1.0071,1.0065,1.0074,1.0074,1.0078,1.0081,1.0088,1.0083,1.0092,1.0095,1.0101,1.0106,1.0095,1.0083,1.0109,1.0113,1.0116,1.0118,1.0109,1.0124,1.0127,1.0136,1.0131,1.0141,1.0154,1.0162,1.0175,1.0176,1.0171,1.0176,1.0168,1.0171,1.0189,1.0201,1.0201,1.0206,1.0212,1.0194,1.0201,1.0212,1.0219,1.0192,1.0198,1.0198,1.0189,1.0194,1.0184,1.0176,1.0159,1.0131,1.0124,1.0113,1.0106,1.0101,1.0083,1.0078,1.0081,1.0071,1.0053,1.0039,1.0030,1.0025,1.0018,1.0018,1.0018,1.0018,1.0021,0.9982,0.9965,0.9954,0.9954,0.9945,0.9942,0.9936,0.9924,0.9906,0.9888,0.9880,0.9880,0.9876,0.9876,0.9866,0.9876,0.9876,0.9876,0.9859,0.9854,0.9848,0.9845,0.9841,0.9841,0.9831,0.9827,0.9813,0.9799];
const fit992 = [[-0.394,0.9942],[-0.306,0.9972],[-0.236,0.9995],[-0.166,0.9989],[-0.096,1.0000],[-0.025,1.0030],[0.045,1.0056],[0.115,1.0079],[0.186,1.0104],[0.256,1.0136],[0.326,1.0171],[0.396,1.0189],[0.453,1.0180],[0.509,1.0127],[0.565,1.0056],[0.635,0.9968],[0.706,0.9898],[0.776,0.9854],[0.860,0.9818]];
const xray992 = [[0.021,14.2,4],[0.066,22.3,5],[0.111,13.1,4],[0.157,13.1,4],[0.202,48.8,7.5],[0.249,54.5,8],[0.295,60.0,8.5],[0.340,43.7,7.5],[0.386,55.5,8],[0.431,50.8,8],[0.478,49.9,8],[0.524,34.0,6.5],[0.569,42.4,7],[0.616,37.7,6.5],[0.661,37.7,6.5],[0.707,27.0,6],[0.752,27.0,6],[0.798,27.0,6],[0.843,35.4,6.5]];
const bins992 = [[0.000,0.179,14.7],[0.179,0.483,52.1],[0.483,0.860,33.5]];
const res992 = [[-0.388,0.00046],[-0.381,-0.00054],[-0.356,0.00003],[-0.349,-0.00054],[-0.320,0.00017],[-0.306,0.00125],[-0.299,0.00103],[-0.292,0.0006],[-0.285,0.00024],[-0.278,0.00017],[-0.271,0.00017],[-0.264,0.00046],[-0.257,0.00089],[-0.250,0.00103],[-0.243,0.00117],[-0.236,0.00046],[-0.229,0.00017],[-0.222,0.00146],[-0.216,0.00249],[-0.211,0.00146],[-0.205,0.00032],[-0.200,-0.00054],[-0.173,-0.00011],[-0.166,-0.00019],[-0.159,0.00003],[-0.152,0.00032],[-0.145,-0.00054],[-0.089,-0.00047],[-0.082,-0.0004],[-0.074,-0.00054],[-0.060,-0.00054],[-0.046,0.00117],[-0.039,0.00096],[-0.032,0.0006],[-0.025,0.00089],[-0.018,0.00096],[-0.011,0.00146],[-0.004,0.0016],[0.003,0.00182],[0.010,0.00168],[0.017,0.00103],[0.024,0.00125],[0.031,0.00075],[0.038,0.00103],[0.045,0.00146],[0.052,0.00075],[0.059,0.00046],[0.066,0.00032],[0.073,0.00096],[0.080,0.00075],[0.087,0.00046],[0.094,0.00032],[0.101,0.00003],[0.108,-0.00011],[0.115,-0.00004],[0.122,-0.00026],[0.129,-0.00054],[0.136,-0.0004],[0.143,0.00032],[0.150,0.00003],[0.157,-0.00011],[0.171,-0.00054],[0.200,-0.00054],[0.207,0.00032],[0.214,-0.00054],[0.242,-0.00054],[0.256,0.00003],[0.263,0.00032],[0.270,0.00117],[0.277,0.00175],[0.284,0.00232],[0.291,0.00289],[0.298,0.00318],[0.305,0.00246],[0.312,0.00347],[0.319,0.00289],[0.326,0.00433],[0.333,0.00304],[0.340,0.00361],[0.347,0.00261],[0.354,0.00132],[0.361,0.00232],[0.368,0.00404],[0.375,0.0049],[0.382,0.00519],[0.389,0.00361],[0.396,0.00261],[0.403,0.0016],[0.410,0.00075],[0.417,0.00203],[0.424,0.00289],[0.431,0.00375],[0.439,0.00375],[0.446,0.00368],[0.453,0.00289],[0.460,0.00232],[0.467,0.00304],[0.474,0.00261],[0.481,0.00089],[0.488,-0.00026],[0.495,-0.00054],[0.530,-0.00054],[0.537,0.00003],[0.544,0.0006],[0.551,0.00082],[0.558,0.00046],[0.565,0.00032],[0.572,-0.00054],[0.579,0.00017],[0.586,0.0006],[0.593,0.00003],[0.600,-0.00054],[0.607,-0.00054],[0.614,-0.00011],[0.621,0.00146],[0.628,0.00261],[0.635,0.00203],[0.642,0.00103],[0.649,0.00003],[0.656,-0.00054],[0.670,-0.00054],[0.677,0.00032],[0.684,0.00103],[0.692,0.0016],[0.699,0.00075],[0.706,0.00003],[0.713,0.0006],[0.720,0.00117],[0.727,0.00146],[0.734,0.00175],[0.741,0.00075],[0.748,0.00032],[0.755,0.00003],[0.762,0.0006],[0.769,0.00146],[0.776,0.00304],[0.783,0.00203],[0.790,0.00117],[0.797,0.00032],[0.804,-0.00054],[0.811,0.00032],[0.818,-0.00026],[0.825,-0.00011],[0.832,0.00003],[0.839,-0.00054],[0.846,0.00032]];
const zero992 = [0], dot992 = 23.1;
const mag992 = [[0.179,0.860,63.7]];
const note992 = [[0.024,66.2,'2.245/0.051']];

// ---------- tick labels ----------
const step = (a, b, d) => { const out = []; for (let v = a; v <= b + d / 1000; v += d) out.push(+v.toFixed(6)); return out; };

// ---------- helpers ----------
const SERIF = '"Liberation Serif", "DejaVu Serif", "Times New Roman", serif';
const BLUE = '#0000ff', ORANGE = '#ff8c00';
const pairs = arr => arr.map(p => ({ x: p[0], y: p[1] }));
const cadence = (t, ys) => ys.map((y, i) => ({ x: t[0] + i * t[1], y }));
const errs = arr => arr.map(p => ({ x: p[0], y: p[1], e: p[2] }));
function stepLine(bins) {
  const out = [];
  bins.forEach(b => out.push({ x: b[0], y: b[2] }, { x: b[1], y: b[2] }));
  return out;
}
function segments(list) {
  const out = [];
  list.forEach(b => out.push({ x: b[0], y: b[2] }, { x: b[1], y: b[2] }, { x: b[1], y: null }));
  return out;
}

const wrap = document.getElementById('wrap');
function addCanvas(x, y, w, h) {
  const c = document.createElement('canvas');
  c.width = w; c.height = h;
  c.style.left = x + 'px'; c.style.top = y + 'px';
  c.style.width = w + 'px'; c.style.height = h + 'px';
  wrap.appendChild(c);
  return c;
}

function drawNote(ctx, x, y, val) {
  const parts = [['E', 0], ['10', 1], ['/L', 0], ['pk,32', 1], ['=' + val, 0]];
  const big = '7px ' + SERIF, small = '5px ' + SERIF;
  let w = 0;
  parts.forEach(p => { ctx.font = p[1] ? small : big; w += ctx.measureText(p[0]).width; });
  let cx = x - w / 2;
  ctx.textAlign = 'left'; ctx.textBaseline = 'middle'; ctx.fillStyle = '#555';
  parts.forEach(p => {
    ctx.font = p[1] ? small : big;
    ctx.fillText(p[0], cx, y + (p[1] ? 2 : 0));
    cx += ctx.measureText(p[0]).width;
  });
}

function tickSet(ctx, scale, vals, minor, horiz, edges, len) {
  const d = vals[1] - vals[0];
  const lo = Math.min(scale.min, scale.max), hi = Math.max(scale.min, scale.max);
  for (let j = -minor; j <= vals.length * minor + minor; j++) {
    const v = vals[0] + j * d / minor;
    if (v < lo - 1e-9 || v > hi + 1e-9) continue;
    const L = (j % minor === 0) ? len : len / 2;
    const p = scale.getPixelForValue(v);
    edges.forEach(e => {
      ctx.beginPath();
      if (horiz) { ctx.moveTo(p, e[0]); ctx.lineTo(p, e[0] + e[1] * L); }
      else { ctx.moveTo(e[0], p); ctx.lineTo(e[0] + e[1] * L, p); }
      ctx.stroke();
    });
  }
}

// frame, inward ticks, labels and error bars in the IDL look
function idlPlugin(cfg) {
  return {
    id: 'idl',
    afterDatasetsDraw(chart) {
      const { ctx, chartArea: a, scales } = chart;
      ctx.save();
      ctx.beginPath(); ctx.rect(a.left, a.top, a.right - a.left, a.bottom - a.top); ctx.clip();
      chart.data.datasets.forEach(ds => {
        if (!ds.errorBars) return;
        const ys = scales[ds.yAxisID || 'y'];
        ctx.strokeStyle = '#000'; ctx.lineWidth = 2;
        ds.data.forEach(p => {
          if (!p.e) return;
          const px = scales.x.getPixelForValue(p.x);
          ctx.beginPath();
          ctx.moveTo(px, ys.getPixelForValue(p.y - p.e));
          ctx.lineTo(px, ys.getPixelForValue(p.y + p.e));
          ctx.stroke();
        });
      });
      ctx.restore();
    },
    afterDraw(chart) {
      const { ctx, chartArea: a, scales } = chart;
      ctx.save();
      ctx.strokeStyle = '#333'; ctx.lineWidth = 1.3;
      ctx.strokeRect(a.left, a.top, a.right - a.left, a.bottom - a.top);
      ctx.lineWidth = 1;
      tickSet(ctx, scales.x, cfg.xTicks, cfg.xMinor, true, [[a.bottom, -1], [a.top, 1]], 7);
      const yEdges = cfg.y2Ticks ? [[a.left, 1]] : [[a.left, 1], [a.right, -1]];
      tickSet(ctx, scales.y, cfg.yTicks, 5, false, yEdges, 7);
      if (cfg.y2Ticks) tickSet(ctx, scales.y2, cfg.y2Ticks, 5, false, [[a.right, -1]], 7);
      if (cfg.label) {
        ctx.fillStyle = '#111'; ctx.font = '13px ' + SERIF;
        ctx.textAlign = 'left'; ctx.textBaseline = 'middle';
        ctx.fillText(cfg.label, a.left + 6, a.top + 10);
      }
      (cfg.notes || []).forEach(n => {
        drawNote(ctx, scales.x.getPixelForValue(n[0]), scales.y.getPixelForValue(n[1]), n[2]);
      });
      if (cfg.rightTitle) {
        ctx.translate(a.right + cfg.rightOff, (a.top + a.bottom) / 2);
        ctx.rotate(-Math.PI / 2);
        ctx.fillStyle = '#333'; ctx.font = '10.5px ' + SERIF;
        ctx.textAlign = 'center'; ctx.textBaseline = 'middle';
        ctx.fillText(cfg.rightTitle, 0, 0);
      }
      ctx.restore();
    }
  };
}

function yScale(min, max, vals, dec, width, title, pad, pos, size, color) {
  return {
    type: 'linear', position: pos, min, max,
    grid: { display: false, drawTicks: false }, border: { display: false },
    ticks: { autoSkip: false, padding: 4, color: color, font: { family: SERIF, size: size },
             callback: v => v.toFixed(dec) },
    afterBuildTicks: s => { s.ticks = vals.map(v => ({ value: v })); },
    afterFit: s => { s.width = width; },
    title: title ? { display: true, text: title, color: '#111', padding: { top: pad, bottom: 0 },
                     font: { family: SERIF, size: 14 } } : { display: false }
  };
}

// ---------- panels ----------
const CNT = '[0.5-8.0keV] Cnts/Ms/cm\u207B\u00B2';
const FLUX = 'CoRoT flux [norm.]', DET = 'CoRoT flux [norm. - detrended]';
const panels = [
  { label: '# 706', px: 0, L: 55, R: 353, T: 6, M: 155, B: 303, axisH: 45, xr: [4.384, 5.089], xt: step(4.4, 5.0, 0.1), xm: 10, xTitle: 'MJD - 55898.1',
    lc: pairs(lc706), lcColor: ORANGE, lcR: 2.8, fit: pairs(fit706), yr: [3.7905, 3.8487], yt: step(3.80, 3.84, 0.01), yd: 2, yTitle: '3.6\u03BCm [mJy]', yPad: 6.6,
    xray: errs(xray706), bins: bins706, zero: zero706, dot: dot706, mag: mag706, notes: note706,
    by: [-1.57, 21.7], bt: step(0, 20, 5), bd: 0, bTitle: CNT, bPad: 15.6,
    res: pairs(res706), resColor: ORANGE, resW: 1.5, ry: [-0.00207, 0.02426], rt: step(0, 0.02, 0.005), rd: 3, rTitle: '3.6\u03BCm [mJy]', rOff: 30, stepW: 3 },
  { label: '# 802', px: 400, L: 461, R: 763, T: 3, M: 152, B: 303, axisH: 45, xr: [-0.204, 0.710], xt: step(-0.2, 0.7, 0.1), xm: 10, xTitle: 'MJD - 54537.8',
    lc: cadence(t802, lc802), lcColor: BLUE, lcR: 3.0, fit: pairs(fit802), yr: [0.9679, 1.1138], yt: step(0.98, 1.10, 0.02), yd: 2, yTitle: FLUX, yPad: 10.6,
    xray: errs(xray802), bins: bins802, zero: zero802, dot: dot802, mag: mag802, notes: note802,
    by: [-2.27, 49.3], bt: step(0, 40, 10), bd: 0, bTitle: CNT, bPad: 19.6,
    res: pairs(res802), resColor: BLUE, resW: 1, ry: [-0.0052, 0.0619], rt: step(0, 0.06, 0.01), rd: 2, rTitle: DET, rOff: 25, stepW: 1.2 },
  { label: '# 829', px: 800, L: 865, R: 1163, T: 5, M: 155, B: 303, axisH: 45, xr: [-0.206, 0.865], xt: step(0, 0.8, 0.2), xm: 4, xTitle: 'MJD - 55898.1',
    lc: cadence(t829a, lc829a), lcColor: BLUE, lcR: 3.0, fit: pairs(fit829a), yr: [0.9559, 1.0221], yt: step(0.96, 1.02, 0.01), yd: 2, yTitle: FLUX, yPad: 17.6,
    xray: errs(xray829a), bins: bins829a, zero: zero829a, dot: dot829a, mag: mag829a, notes: note829a,
    by: [-3.6, 55.7], bt: step(0, 50, 10), bd: 0, bTitle: CNT, bPad: 24.6,
    res: pairs(res829a), resColor: BLUE, resW: 1, ry: [-0.00092, 0.01017], rt: step(0, 0.01, 0.002), rd: 3, rTitle: DET, rOff: 30, stepW: 1.5 },
  { label: '# 829', px: 0, L: 59, R: 353, T: 358, M: 507, B: 656, axisH: 45, xr: [4.190, 5.277], xt: step(4.2, 5.2, 0.2), xm: 4, xTitle: 'MJD - 55898.1',
    lc: pairs(lc829b), lcColor: BLUE, lcR: 3.0, fit: pairs(fit829b), yr: [0.9445, 1.0247], yt: step(0.96, 1.02, 0.02), yd: 2, yTitle: FLUX, yPad: 6.6,
    xray: errs(xray829b), bins: bins829b, zero: zero829b, dot: dot829b, mag: mag829b, notes: note829b,
    by: [-0.0118, 0.1395], bt: step(0, 0.12, 0.02), bd: 2, bTitle: '[0.5-8.0keV] Cnts/Ks/cm\u207B\u00B2', bPad: 3.6,
    res: pairs(res829b), resColor: BLUE, resW: 1, ry: [-0.00249, 0.02845], rt: step(0, 0.025, 0.005), rd: 3, rTitle: DET, rOff: 32, stepW: 2.5 },
  { label: '# 882', px: 400, L: 460, R: 758, T: 358, M: 507, B: 656, axisH: 45, xr: [1.618, 3.471], xt: step(1.8, 3.4, 0.2), xm: 4, xTitle: 'MJD - 55898.1',
    lc: pairs(lc882), lcColor: BLUE, lcR: 3.0, fit: pairs(fit882), yr: [0.9747, 1.0463], yt: step(0.98, 1.04, 0.02), yd: 2, yTitle: FLUX, yPad: 9.6,
    xray: errs(xray882), bins: bins882, zero: zero882, dot: dot882, mag: mag882, notes: note882,
    by: [-0.77, 9.63], bt: step(0, 8, 2), bd: 0, bTitle: CNT, bPad: 11.6,
    res: pairs(res882), resColor: BLUE, resW: 1, ry: [-0.000535, 0.00612], rt: step(0, 0.006, 0.001), rd: 3, rTitle: DET, rOff: 30, stepW: 2.5 },
  { label: '# 931', px: 800, L: 866, R: 1163, T: 357, M: 507, B: 656, axisH: 45, xr: [3.978, 6.390], xt: step(4.0, 6.2, 0.2), xm: 4, xTitle: 'MJD - 55898.1',
    lc: pairs(lc931), lcColor: BLUE, lcR: 3.0, fit: pairs(fit931), yr: [0.9978, 1.0343], yt: step(1.00, 1.03, 0.01), yd: 2, yTitle: FLUX, yPad: 15.6,
    xray: errs(xray931), bins: bins931, zero: zero931, dot: dot931, mag: mag931, notes: note931,
    by: [-5.2, 65.0], bt: step(0, 60, 10), bd: 0, bTitle: CNT, bPad: 23.6,
    res: pairs(res931), resColor: BLUE, resW: 1, ry: [-0.00069, 0.0074], rt: step(0, 0.006, 0.002), rd: 3, rTitle: DET, rOff: 30, stepW: 2.5 },
  { label: '# 980', px: 0, L: 53, R: 351, T: 709, M: 859, B: 1008, axisH: 42, xr: [1.616, 3.503], xt: step(1.8, 3.4, 0.2), xm: 4, xTitle: 'MJD - 55898.1',
    lc: cadence(t980, lc980), lcColor: BLUE, lcR: 3.0, fit: pairs(fit980), yr: [0.9459, 1.0457], yt: step(0.96, 1.04, 0.02), yd: 2, yTitle: FLUX, yPad: 2.6,
    xray: errs(xray980), bins: bins980, zero: zero980, dot: dot980, mag: mag980, notes: note980,
    by: [-1.71, 18.97], bt: step(0, 15, 5), bd: 0, bTitle: CNT, bPad: 8.6,
    res: pairs(res980), resColor: BLUE, resW: 1, ry: [-0.00275, 0.0297], rt: step(0, 0.025, 0.005), rd: 3, rTitle: DET, rOff: 29, stepW: 2.5 },
  { label: '# 981', px: 400, L: 457, R: 755, T: 709, M: 859, B: 1008, axisH: 42, xr: [4.387, 5.467], xt: step(4.4, 5.4, 0.2), xm: 4, xTitle: 'MJD - 55898.1',
    lc: pairs(lc981), lcColor: BLUE, lcR: 3.0, fit: pairs(fit981), yr: [0.9818, 1.0438], yt: step(0.99, 1.04, 0.01), yd: 2, yTitle: FLUX, yPad: 7.6,
    xray: errs(xray981), bins: bins981, zero: zero981, dot: dot981, mag: mag981, notes: note981,
    by: [-2.39, 25.8], bt: step(0, 25, 5), bd: 0, bTitle: CNT, bPad: 14.6,
    res: pairs(res981), resColor: BLUE, resW: 1, ry: [-0.00173, 0.01864], rt: step(0, 0.015, 0.005), rd: 3, rTitle: DET, rOff: 31, stepW: 2.5 },
  { label: '# 992', px: 800, L: 863, R: 1160, T: 709, M: 859, B: 1008, axisH: 42, xr: [-0.394, 0.860], xt: step(-0.2, 0.8, 0.2), xm: 4, xTitle: 'MJD - 55898.1',
    lc: cadence(t992, lc992), lcColor: BLUE, lcR: 3.0, fit: pairs(fit992), yr: [0.9665, 1.0459], yt: step(0.98, 1.04, 0.02), yd: 2, yTitle: FLUX, yPad: 12.6,
    xray: errs(xray992), bins: bins992, zero: zero992, dot: dot992, mag: mag992, notes: note992,
    by: [-6.2, 68.9], bt: step(0, 60, 20), bd: 0, bTitle: CNT, bPad: 18.6,
    res: pairs(res992), resColor: BLUE, resW: 1, ry: [-0.00054, 0.00587], rt: step(0, 0.005, 0.001), rd: 3, rTitle: DET, rOff: 30, stepW: 1.5 }
];

const PAD = 12;
panels.forEach(p => {
  const leftW = p.L - p.px, rightW = p.px + 400 - p.R;

  // upper panel: optical / IR light curve with smooth model
  const top = addCanvas(p.px, p.T - PAD, 400, p.M - p.T + 2 * PAD);
  new Chart(top, {
    type: 'scatter',
    data: { datasets: [
      { data: p.lc, pointStyle: 'rect', pointRadius: p.lcR, backgroundColor: p.lcColor, borderWidth: 0, order: 0 },
      { type: 'line', data: p.fit, borderColor: '#c8c8c8', borderWidth: 5.5, pointRadius: 0, tension: 0.4, fill: false, order: 1 }
    ] },
    options: {
      responsive: false, animation: false, events: [],
      layout: { padding: { top: PAD, bottom: PAD, left: 0, right: rightW } },
      plugins: { legend: { display: false }, tooltip: { enabled: false } },
      scales: {
        x: { type: 'linear', display: false, min: p.xr[0], max: p.xr[1] },
        y: yScale(p.yr[0], p.yr[1], p.yt, p.yd, leftW, p.yTitle, p.yPad, 'left', 14, '#111')
      }
    },
    plugins: [idlPlugin({ xTicks: p.xt, xMinor: p.xm, yTicks: p.yt, label: p.label })]
  });

  // lower panel: X-ray light curve, blocks and residual optical curve
  const hLow = PAD + (p.B - p.M) + p.axisH;
  const low = addCanvas(p.px, p.M - PAD, 400, hLow);
  const edge = (lvl) => [{ x: p.xr[0], y: lvl }, { x: p.xr[1], y: lvl }, { x: p.xr[1], y: null }];
  const zeroPts = [].concat(...p.zero.map(edge));
  new Chart(low, {
    type: 'scatter',
    data: { datasets: [
      { data: p.xray, errorBars: true, pointRadius: 3.4, backgroundColor: '#000', borderWidth: 0, order: 0 },
      { type: 'line', data: segments(p.bins), borderColor: '#000', borderWidth: 2, pointRadius: 0, spanGaps: false, order: 1 },
      { type: 'line', data: segments(p.mag), borderColor: '#ff5cff', borderWidth: 1.5, pointRadius: 0, spanGaps: false, order: 2 },
      { type: 'line', data: p.res, yAxisID: 'y2', borderColor: p.resColor, borderWidth: p.resW, pointRadius: 0, tension: 0, order: 3 },
      { type: 'line', data: stepLine(p.bins), borderColor: '#bdbdbd', borderWidth: p.stepW, pointRadius: 0, order: 4 },
      { type: 'line', data: zeroPts, borderColor: '#b5b5b5', borderWidth: 1.5, pointRadius: 0, spanGaps: false, order: 5 },
      { type: 'line', data: edge(p.dot), borderColor: '#999', borderWidth: 1, borderDash: [2, 3], pointRadius: 0, spanGaps: false, order: 5 }
    ] },
    options: {
      responsive: false, animation: false, events: [],
      layout: { padding: { top: PAD, bottom: 0, left: 0, right: 0 } },
      plugins: { legend: { display: false }, tooltip: { enabled: false } },
      scales: {
        x: {
          type: 'linear', position: 'bottom', min: p.xr[0], max: p.xr[1],
          grid: { display: false, drawTicks: false }, border: { display: false },
          ticks: { autoSkip: false, maxRotation: 0, padding: 6, color: '#111', font: { family: SERIF, size: 14 },
                   callback: v => v.toFixed(1) },
          afterBuildTicks: s => { s.ticks = p.xt.map(v => ({ value: v })); },
          afterFit: s => { s.height = p.axisH; },
          title: { display: true, text: p.xTitle, color: '#111', font: { family: SERIF, size: 14 },
                   padding: { top: 0, bottom: p.axisH - 29 - 8.4 } }
        },
        y: yScale(p.by[0], p.by[1], p.bt, p.bd, leftW, p.bTitle, p.bPad, 'left', 14, '#111'),
        y2: yScale(p.ry[0], p.ry[1], p.rt, p.rd, rightW, null, 0, 'right', 10, '#333')
      }
    },
    plugins: [idlPlugin({ xTicks: p.xt, xMinor: p.xm, yTicks: p.bt, y2Ticks: p.rt, notes: p.notes,
                          rightTitle: p.rTitle, rightOff: p.rOff })]
  });
});
</script>
</body>
</html>
